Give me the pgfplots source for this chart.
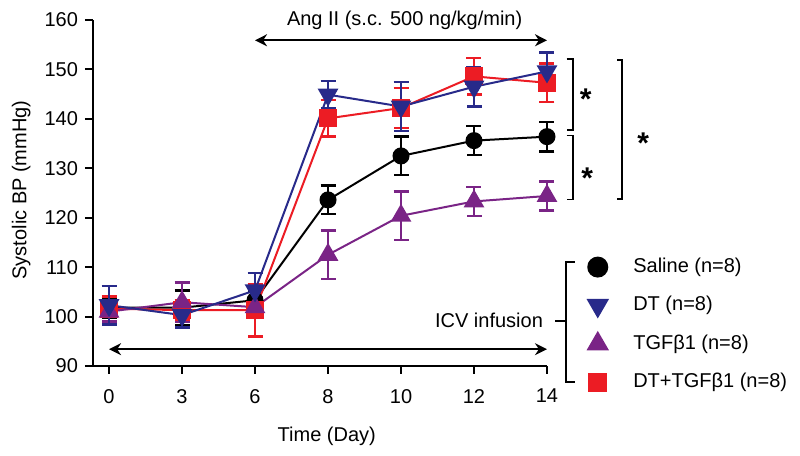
\documentclass[border=0pt]{standalone}
\usepackage{fontspec}
\setmainfont{Liberation Sans}
\usepackage{pgfplots}
\usepackage{pgfplotstable}
\pgfplotsset{compat=1.18}
\usetikzlibrary{arrows.meta}

\definecolor{dtblue}{RGB}{40,42,138}
\definecolor{tgfpurple}{RGB}{122,36,134}
\definecolor{combred}{RGB}{236,28,36}

% x = position of day (0,3,6,8,10,12,14), y = mean SBP, e = SEM
\pgfplotstableread{
x y e
0 101.8 2.0
1 101.8 3.5
2 103.3 2.0
3 123.6 2.9
4 132.5 3.9
5 135.6 2.9
6 136.4 3.0
}\saline
\pgfplotstableread{
x y e
0 102.3 3.9
1 100.3 2.5
2 105.3 3.5
3 144.9 2.8
4 142.5 5.0
5 146.5 4.0
6 149.6 3.8
}\dt
\pgfplotstableread{
x y e
0 101.0 2.0
1 102.9 4.0
2 101.9 2.0
3 112.5 4.9
4 120.4 4.9
5 123.3 2.9
6 124.4 2.9
}\tgf
\pgfplotstableread{
x y e
0 101.6 2.5
1 101.3 2.0
2 101.3 5.3
3 140.1 3.7
4 142.2 4.0
5 148.6 3.7
6 147.3 3.9
}\comb

\begin{document}
\begin{tikzpicture}[font=\fontsize{10}{12}\selectfont]
\begin{axis}[
  name=ax, at={(0,0)}, anchor=south west,
  scale only axis, width=227pt, height=173pt,
  xmin=-0.22, xmax=6, ymin=90, ymax=160,
  axis lines*=left,
  axis line style={line width=1pt},
  xtick={0,...,6}, xticklabels={0,3,6,8,10,12,14},
  ytick={90,100,...,160},
  tick align=outside, major tick length=4pt,
  tick style={black, line width=1pt},
  xticklabel style={yshift=-4pt},
  /pgf/number format/assume math mode=true,
  xlabel={Time (Day)}, ylabel={Systolic BP (mmHg)},
  xlabel style={at={(axis description cs:0.515,-0.202)}, anchor=center},
  ylabel style={at={(axis description cs:-0.158,0.509)}, anchor=center},
  clip=false,
  legend style={draw=none, fill=none, at={(axis description cs:1.09,0.329)},
    anchor=north west, inner sep=0pt, row sep=4.7pt, column sep=11pt,
    nodes={inner sep=2pt, text height=8pt, text depth=2.5pt}},
  legend cell align=left,
  every axis plot/.append style={line width=1pt},
  error bars/error mark options={rotate=90, mark size=3.75pt, line width=1.2pt},
]
\addlegendimage{only marks, mark=*, black, mark size=4.75pt}
\addlegendimage{only marks, mark=triangle*, dtblue, mark size=5.5pt, mark options={rotate=180}}
\addlegendimage{only marks, mark=triangle*, tgfpurple, mark size=5.5pt}
\addlegendimage{only marks, mark=square*, combred, mark size=4.3pt}
\legend{Saline (n=8), DT (n=8), TGFβ1 (n=8), DT+TGFβ1 (n=8)}

\addplot[black, mark=*, mark size=3.75pt, forget plot,
  error bars/.cd, y dir=both, y explicit, error bar style={line width=1.2pt}]
  table[x=x, y=y, y error=e] {\saline};
\addplot[combred, mark=square*, mark size=4pt, forget plot,
  error bars/.cd, y dir=both, y explicit, error bar style={line width=1.2pt}]
  table[x=x, y=y, y error=e] {\comb};
\addplot[tgfpurple, mark=triangle*, mark size=5pt, forget plot,
  error bars/.cd, y dir=both, y explicit, error bar style={line width=1.2pt}]
  table[x=x, y=y, y error=e] {\tgf};
\addplot[dtblue, mark=triangle*, mark size=5pt, mark options={rotate=180}, forget plot,
  error bars/.cd, y dir=both, y explicit, error bar style={line width=1.2pt}]
  table[x=x, y=y, y error=e] {\dt};

% treatment arrows
\draw[{Stealth[length=6pt,width=6pt]}-{Stealth[length=6pt,width=6pt]}, line width=1.2pt]
  (axis cs:2,155.9) -- (axis cs:6,155.9);
\node at (axis cs:4.05,160) {Ang II (s.c. 500 ng/kg/min)};
\draw[{Stealth[length=6pt,width=6pt]}-{Stealth[length=6pt,width=6pt]}, line width=1.2pt]
  (axis cs:0,93.4) -- (axis cs:6,93.4);
\node[anchor=east, inner sep=0pt] at (axis cs:5.95,99.3) {ICV infusion};

% brace joining the legend
\draw[line width=0.8pt] (axis cs:6.38,111.05) -- (axis cs:6.26,111.05)
  -- (axis cs:6.26,86.8) -- (axis cs:6.38,86.8);
\draw[line width=0.8pt] (axis cs:6.26,99.1) -- (axis cs:6.11,99.1);

% significance brackets
\draw[line width=0.8pt] (axis cs:6.27,152.1) -- (axis cs:6.36,152.1)
  -- (axis cs:6.36,137.8) -- (axis cs:6.27,137.8);
\draw[line width=0.8pt] (axis cs:6.27,136.6) -- (axis cs:6.36,136.6)
  -- (axis cs:6.36,123.7) -- (axis cs:6.27,123.7);
\draw[line width=0.8pt] (axis cs:6.96,151.9) -- (axis cs:7.03,151.9)
  -- (axis cs:7.03,123.8) -- (axis cs:6.96,123.8);
\node[font=\fontsize{15}{15}\selectfont\bfseries, yshift=-3pt] at (axis cs:6.53,145.1) {*};
\node[font=\fontsize{15}{15}\selectfont\bfseries, yshift=-3pt] at (axis cs:6.55,129.3) {*};
\node[font=\fontsize{15}{15}\selectfont\bfseries, yshift=-3pt] at (axis cs:7.32,136.2) {*};
\end{axis}
\pgfresetboundingbox
\path[use as bounding box] (ax.south west) ++(-46.5pt,-45pt) rectangle ++(400pt,228pt);
\end{tikzpicture}
\end{document}
